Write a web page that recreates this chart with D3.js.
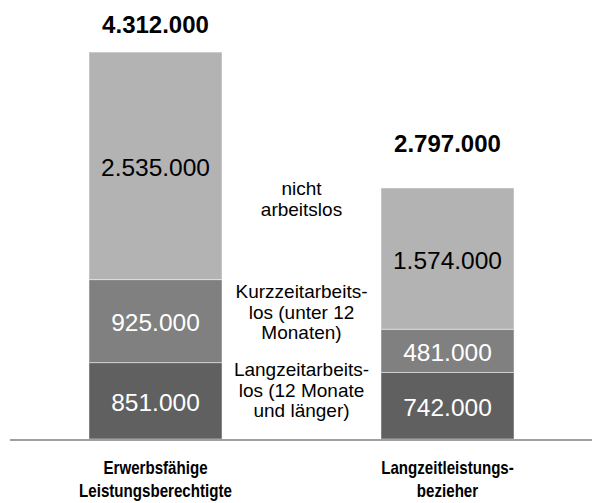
<!DOCTYPE html>
<html>
<head>
<meta charset="utf-8">
<script src="https://cdn.jsdelivr.net/npm/d3@7"></script>
<style>
  html, body { margin: 0; padding: 0; background: #fff; }
  svg { display: block; font-family: "Liberation Sans", Arial, Helvetica, sans-serif; }
</style>
</head>
<body>
<svg id="chart" width="592" height="503"></svg>
<script>
// ---- data ----
const categories = [["Erwerbsfähige", "Leistungsberechtigte"], ["Langzeitleistungs-", "bezieher"]];
const categoryKeys = ["Erwerbsfähige Leistungsberechtigte", "Langzeitleistungsbezieher"];
const seriesNames = ["Langzeitarbeitslos", "Kurzzeitarbeitslos", "nicht arbeitslos"];
const langzeit = [851000, 742000];
const kurzzeit = [925000, 481000];
const nichtArbeitslos = [2535000, 1574000];
const totals = [4312000, 2797000];
const seriesLabels = [
  ["Langzeitarbeits-", "los (12 Monate", "und länger)"],
  ["Kurzzeitarbeits-", "los (unter 12", "Monaten)"],
  ["nicht", "arbeitslos"]
];

// ---- styles / layout ----
const colors = ["#606060", "#808080", "#b3b3b3"];
const textColors = ["#ffffff", "#ffffff", "#000000"];
const fmt = v => d3.format(",")(v).replace(/,/g, ".");

const svg = d3.select("#chart");
const baseY = 439;
const x = d3.scaleBand().domain(categoryKeys).range([89, 514]).paddingInner(0.5445).paddingOuter(0);
const y = d3.scaleLinear().domain([0, totals[0]]).range([baseY, 52]);

const rows = categoryKeys.map((k, i) => ({ key: k, Langzeitarbeitslos: langzeit[i], Kurzzeitarbeitslos: kurzzeit[i], "nicht arbeitslos": nichtArbeitslos[i] }));
const stack = d3.stack().keys(seriesNames)(rows);

const layers = svg.append("g").selectAll("g").data(stack).join("g")
  .attr("fill", (d, i) => colors[i]);

layers.selectAll("rect").data(d => d).join("rect")
  .attr("x", d => x(d.data.key))
  .attr("width", x.bandwidth())
  .attr("y", d => y(d[1]))
  .attr("height", d => y(d[0]) - y(d[1]))
  .attr("stroke", "#ffffff")
  .attr("stroke-opacity", 0.45)
  .attr("stroke-width", 1);

// segment value labels
stack.forEach((layer, si) => {
  svg.append("g").selectAll("text").data(layer).join("text")
    .attr("x", d => x(d.data.key) + x.bandwidth() / 2)
    .attr("y", d => (y(d[0]) + y(d[1])) / 2)
    .attr("dy", "0.42em")
    .attr("text-anchor", "middle")
    .attr("font-size", 24.5)
    .attr("fill", textColors[si])
    .text(d => fmt(d[1] - d[0]));
});

// totals
const totalOffsets = [19, 36];
svg.append("g").selectAll("text").data(totals).join("text")
  .attr("x", (d, i) => x(categoryKeys[i]) + x.bandwidth() / 2)
  .attr("y", (d, i) => y(d) - totalOffsets[i])
  .attr("text-anchor", "middle")
  .attr("font-size", 24)
  .attr("font-weight", "bold")
  .attr("fill", "#000")
  .text(d => fmt(d));

// baseline axis
svg.append("line")
  .attr("x1", 10).attr("x2", 592)
  .attr("y1", baseY + 1).attr("y2", baseY + 1)
  .attr("stroke", "#a0a0a0").attr("stroke-width", 2);

// category labels
const cx = categoryKeys.map(k => x(k) + x.bandwidth() / 2);
categories.forEach((lines, i) => {
  const t = svg.append("text")
    .attr("transform", `translate(${cx[i]},0) scale(0.84,1)`)
    .attr("text-anchor", "middle")
    .attr("font-size", 18)
    .attr("font-weight", "bold")
    .attr("fill", "#000");
  lines.forEach((l, j) => t.append("tspan").attr("x", 0).attr("y", 474 + j * 23).text(l));
});

// series annotation labels between bars
const midX = (x(categoryKeys[0]) + x.bandwidth() + x(categoryKeys[1])) / 2;
const annTop = [376, 298, 195];
seriesLabels.forEach((lines, si) => {
  const t = svg.append("text")
    .attr("text-anchor", "middle")
    .attr("font-size", 19)
    .attr("fill", "#000");
  lines.forEach((l, j) => t.append("tspan").attr("x", midX).attr("y", annTop[si] + j * 20.7).text(l));
});
</script>
</body>
</html>
